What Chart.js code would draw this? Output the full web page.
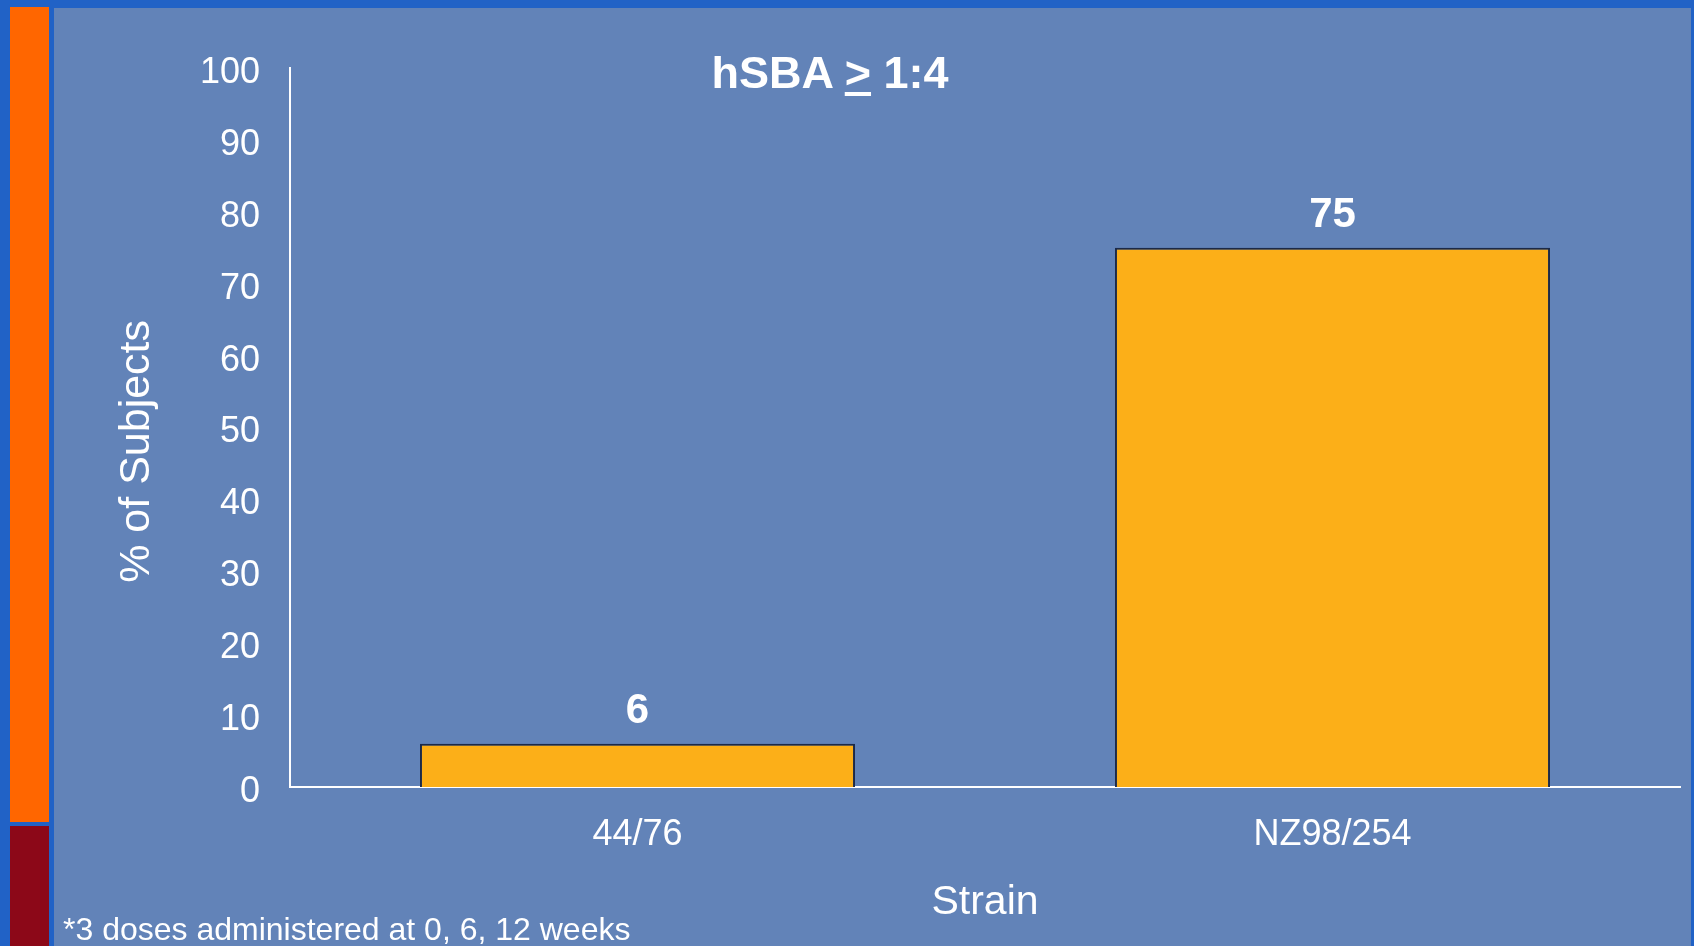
<!DOCTYPE html>
<html>
<head>
<meta charset="utf-8">
<title>hSBA &ge; 1:4</title>
<script src="https://cdn.jsdelivr.net/npm/chart.js@4.4.1/dist/chart.umd.min.js"></script>
<style>
  html, body {
    margin: 0;
    padding: 0;
  }
  body {
    width: 1694px;
    height: 946px;
    overflow: hidden;
    position: relative;
    background: #2162c6;
    font-family: "Liberation Sans", Arial, sans-serif;
  }
  .stripe-orange {
    position: absolute;
    left: 10px;
    top: 7px;
    width: 39px;
    height: 815px;
    background: #ff6600;
  }
  .stripe-red {
    position: absolute;
    left: 10px;
    top: 826px;
    width: 39px;
    height: 120px;
    background: #8c0818;
  }
  .panel {
    position: absolute;
    left: 54px;
    top: 8px;
    width: 1637px;
    height: 938px;
    background: #6283b8;
  }
  #chartCanvas {
    position: absolute;
    left: 0;
    top: 0;
  }
  .slide-title {
    position: absolute;
    left: 580px;
    top: 50px;
    width: 500px;
    text-align: center;
    color: #ffffff;
    font-weight: bold;
    font-size: 45px;
    line-height: 45px;
  }
  .slide-title u {
    text-decoration-thickness: 4px;
    text-underline-offset: 4px;
  }
  .footnote {
    position: absolute;
    left: 63px;
    top: 913px;
    color: #ffffff;
    font-size: 32px;
    line-height: 32px;
    white-space: nowrap;
  }
</style>
</head>
<body>
<div class="stripe-orange"></div>
<div class="stripe-red"></div>
<div class="panel"></div>
<canvas id="chartCanvas" width="1694" height="946"></canvas>
<div class="slide-title">hSBA <u>&gt;</u> 1:4</div>
<div class="footnote">*3 doses administered at 0, 6, 12 weeks</div>

<script>
  // chart values
  const strains = ["44/76", "NZ98/254"];
  const pctSubjects = [6, 75];
  const yMin = 0;
  const yMax = 100;
  const yStep = 10;

  const white = "#ffffff";
  const fontFamily = "'Liberation Sans', Arial, sans-serif";

  // draws the value above each bar
  const barValueLabels = {
    id: "barValueLabels",
    afterDatasetsDraw(chart) {
      const ctx = chart.ctx;
      const meta = chart.getDatasetMeta(0);
      ctx.save();
      ctx.fillStyle = white;
      ctx.font = "bold 42px " + fontFamily;
      ctx.textAlign = "center";
      ctx.textBaseline = "middle";
      meta.data.forEach((bar, i) => {
        ctx.fillText(String(pctSubjects[i]), bar.x, bar.y - 32);
      });
      ctx.restore();
    },
  };

  const data = {
    labels: strains,
    datasets: [
      {
        label: "% of Subjects",
        data: pctSubjects,
        backgroundColor: "#fcaf18",
        borderColor: "#1c2a48",
        borderWidth: 2,
        categoryPercentage: 1.0,
        barPercentage: 0.626,
      },
    ],
  };

  const options = {
    responsive: false,
    animation: false,
    events: [],
    layout: {
      padding: { top: 68, right: 14, bottom: 0, left: 0 },
    },
    plugins: {
      legend: { display: false },
      title: { display: false },
      tooltip: { enabled: false },
    },
    scales: {
      x: {
        grid: { display: false, drawTicks: false },
        border: { display: true, color: white, width: 2 },
        ticks: {
          color: white,
          padding: 26,
          font: { family: fontFamily, size: 36 },
        },
        title: {
          display: true,
          text: "Strain",
          color: white,
          padding: { top: 0, bottom: 19 },
          font: { family: fontFamily, size: 41 },
        },
        afterFit(scale) {
          scale.height = 159;
        },
      },
      y: {
        min: yMin,
        max: yMax,
        grid: { display: false, drawTicks: false },
        border: { display: true, color: white, width: 2 },
        ticks: {
          stepSize: yStep,
          color: white,
          padding: 30,
          labelOffset: 5,
          font: { family: fontFamily, size: 36 },
        },
        title: {
          display: true,
          // trailing spaces nudge the rotated label down a bit
          text: "% of Subjects    ",
          color: white,
          padding: { top: 111, bottom: 0 },
          font: { family: fontFamily, size: 43 },
        },
        afterFit(scale) {
          scale.width = 290;
        },
      },
    },
  };

  const ctx = document.getElementById("chartCanvas");
  new Chart(ctx, {
    type: "bar",
    data: data,
    options: options,
    plugins: [barValueLabels],
  });
</script>
</body>
</html>
